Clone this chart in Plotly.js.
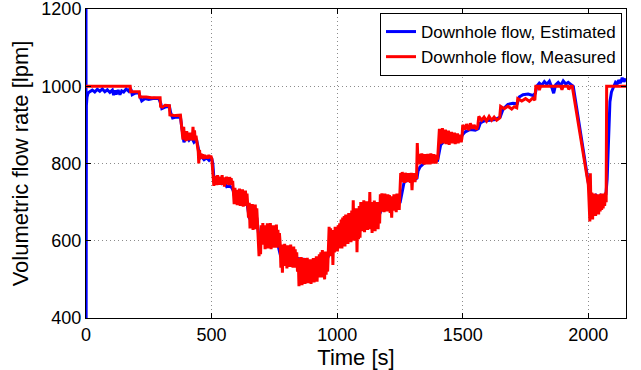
<!DOCTYPE html>
<html>
<head>
<meta charset="utf-8">
<script src="https://cdn.plot.ly/plotly-3.0.1.min.js"></script>
<style>html,body{margin:0;padding:0;background:#fff;}#chart{width:641px;height:370px;}</style>
</head>
<body>
<div id="chart"></div>
<script>
// Downhole flow, Measured (time [s], flow [lpm])
var tMeasured = [0,176,178,212,214,240,260,295,297,305,315,332,334,355,376,
380,383,386,389,392,395,398,401,404,407,410,413,416,420,423,426,429,432,435,438,441,444,447,449,452,455,458,461,465,469,473,477,481,485,489,493,497,501,504,506,509,512,515,518,521,524,527,530,533,536,539,542,545,548,551,554,557,560,563,566,569,572,575,578,581,584,
587,590,593,596,599,602,605,608,611,614,617,620,623,626,629,632,635,638,641,644,
647,650,653,656,659,662,665,668,671,674,677,680,683,686,689,692,695,698,701,
704,707,710,713,716,719,722,725,728,731,734,737,740,743,746,749,752,755,758,761,764,767,770,
773,776,779,782,785,788,791,794,797,800,803,806,809,812,815,818,821,824,827,830,833,836,839,
842,845,848,851,854,857,860,863,866,869,872,875,878,881,884,887,890,893,896,899,902,905,908,911,914,917,920,923,926,929,
932,935,938,941,944,947,950,953,956,959,962,965,968,971,
974,977,980,983,986,989,992,995,998,1001,1004,1007,1010,
1013,1016,1019,1022,1025,1028,1031,1034,1037,1040,1043,1046,1049,1052,1055,1058,1061,1064,1067,1070,1073,1076,1079,1082,1085,1088,1091,
1094,1097,1100,1103,1106,1109,1112,1115,1118,1121,1124,1127,1130,1133,1136,1139,1142,1145,1148,1151,1154,1157,1160,1163,1166,1169,
1172,1175,1178,1181,1184,1187,1190,1193,1196,1199,1202,1205,1208,1211,1214,1217,1220,1223,1226,1229,1232,1235,1238,1241,1244,1247,1250,
1253,1256,1259,1262,1265,1268,1271,1274,1277,1280,1283,1286,1289,1292,1295,1298,1301,1304,1307,1310,1313,1316,
1319,1322,1325,1328,1331,1334,1337,1340,1343,1346,1349,1352,1355,1358,1361,1364,1367,1370,1373,1376,1379,1382,1385,1388,1391,1394,1397,1400,
1404,1407,1410,1413,1416,1419,1422,1425,1428,1431,1434,1437,1440,1443,1446,1449,1452,1455,1458,1461,1464,1467,1470,1473,1476,1479,1482,1485,1488,1491,1494,1497,
1500,1510,1515,1525,1530,1540,1545,1555,1560,
1564,1575,1585,1595,1605,1615,1625,1635,1647,
1651,1665,1680,1695,1705,1715,
1719,1735,1750,1765,1778,1787,
1791,1800,1805,1810,1890,1895,1900,1918,1922,1930,1936,
2000,2003,2006,2008,2011,2014,2017,2020,2023,2026,2029,2032,2035,2038,2041,2044,2047,2050,2053,2056,2059,2062,2065,2068,2071,2073,2150];
var vMeasured = [1000,1000,986,986,972,972,970,970,948,946,951,950,926,924,925,
905,878,862,895,866,880,858,884,862,875,860,880,864,872,860,895,862,886,860,872,858,850,830,800,835,812,826,814,824,812,822,814,820,813,822,815,820,812,790,760,742,768,746,764,744,770,748,762,745,766,747,770,745,760,740,764,746,766,748,760,744,765,748,762,745,755,
720,695,737,700,732,692,728,698,735,690,725,700,733,688,726,697,730,690,722,700,
660,698,632,690,640,695,628,688,636,694,630,684,640,600,560,620,565,640,590,
646,590,640,578,636,584,645,580,632,590,646,578,636,586,640,582,630,588,642,582,628,595,620,
594,530,590,517,585,540,592,535,580,528,588,540,582,532,590,538,576,530,585,542,578,530,570,
520,556,482,550,495,558,485,545,498,555,488,548,500,556,490,545,495,552,488,540,498,555,492,548,500,560,494,552,505,565,
510,570,505,576,515,565,500,572,512,568,520,600,636,560,
632,575,628,537,615,570,636,578,630,572,640,580,645,
585,655,580,660,590,664,585,668,595,660,592,672,598,668,596,678,600,705,600,676,605,684,570,680,604,690,608,
700,625,695,630,705,622,698,635,702,628,692,640,726,630,700,620,695,638,704,625,698,640,700,630,690,645,
720,675,723,680,718,674,722,682,716,676,720,685,718,672,715,660,712,678,720,682,716,674,722,685,718,680,740,
775,752,778,755,772,750,776,758,770,752,775,756,772,750,776,731,770,754,775,752,774,760,
853,800,825,798,822,800,826,802,820,797,824,803,818,798,825,805,820,798,826,804,818,800,824,806,820,800,822,810,
870,890,850,885,855,892,852,880,858,888,850,878,860,885,848,876,858,882,852,875,858,880,850,872,856,878,852,870,860,875,855,868,
900,888,902,886,904,890,900,888,898,
922,912,920,910,922,912,920,912,918,
948,942,948,941,947,944,
968,962,968,961,969,964,
1000,1000,990,1000,1000,991,1000,1000,992,1000,1000,
745,700,650,775,662,725,655,715,668,722,664,712,672,720,668,715,676,722,680,716,684,722,690,725,700,1000,1000];

// Downhole flow, Estimated (time [s], flow [lpm])
var tEstimated = [0,0.5,1.5,4,8,15,25,35,45,55,65,75,85,95,105,110,115,120,128,135,142,150,160,170,176,180,184,195,210,216,222,235,250,270,290,298,302,315,332,337,345,360,376,380,385,390,400,410,420,430,440,447,452,460,470,480,490,500,505,510,520,530,540,550,560,570,580,586,595,605,615,625,640,650,660,670,680,690,700,710,720,730,740,750,760,775,790,800,815,830,840,850,860,870,880,890,900,915,930,950,965,975,990,1010,1030,1050,1070,1090,1110,1130,1150,1171,1180,1200,1220,1240,1251,1258,1266,1280,1300,1318,1322,1330,1345,1360,1380,1400,1405,1412,1430,1450,1470,1490,1500,1510,1530,1550,1562,1570,1585,1610,1630,1649,1660,1680,1700,1717,1725,1740,1760,1780,1789,1795,1805,1815,1825,1835,1845,1855,1862,1870,1880,1890,1900,1910,1920,1930,1940,2004,2010,2020,2030,2040,2050,2060,2070,2075,2080,2086,2092,2100,2108,2115,2120,2128,2135,2142,2150];
var vEstimated = [1210,395,950,972,982,986,990,985,992,987,993,986,991,984,990,977,989,979,990,978,988,985,993,987,995,990,978,982,984,972,962,968,966,969,968,955,942,946,948,932,918,920,920,900,870,855,870,860,868,855,862,840,812,818,810,815,808,815,800,755,750,755,748,752,740,742,738,730,705,712,700,708,700,660,662,655,660,600,610,612,605,610,600,604,600,560,556,552,555,550,545,556,520,555,515,525,520,525,530,538,560,600,605,612,625,632,640,650,662,665,668,672,690,695,690,698,700,726,750,758,755,762,780,791,800,806,805,808,830,848,860,862,860,864,875,882,888,886,890,905,910,912,914,920,940,953,956,955,972,978,980,976,982,1000,1008,1003,1012,1005,1013,996,982,1004,1010,1002,1014,1006,1010,1005,1000,735,716,712,718,710,718,714,720,760,880,960,985,1000,1010,1005,1016,1008,1022,1012,1020];

var xTicks = [0, 500, 1000, 1500, 2000];
var yTicks = [400, 600, 800, 1000, 1200];

var font = 'Liberation Sans, Arial, Helvetica, sans-serif';

var traces = [
  {x: tEstimated, y: vEstimated, type: 'scatter', mode: 'lines', name: 'Downhole flow, Estimated',
   line: {color: '#0000ff', width: 3}},
  {x: tMeasured, y: vMeasured, type: 'scatter', mode: 'lines', name: 'Downhole flow, Measured',
   line: {color: '#ff0000', width: 3}}
];

var axisCommon = {
  showline: true, linecolor: '#000', linewidth: 1, mirror: 'ticks',
  ticks: 'inside', ticklen: 5, tickcolor: '#000', tickwidth: 1,
  showgrid: true, gridcolor: '#8c8c8c', griddash: '1px,3px', gridwidth: 1,
  zeroline: false, ticklabeloverflow: 'allow',
  tickfont: {family: font, size: 18, color: '#000'}
};

var layout = {
  width: 641, height: 370,
  margin: {l: 86, r: 15, t: 9, b: 52},
  paper_bgcolor: '#fff', plot_bgcolor: '#fff',
  showlegend: true,
  legend: {x: 0.9926, y: 0.987, xanchor: 'right', yanchor: 'top',
           bgcolor: '#fff', bordercolor: '#000', borderwidth: 1,
           font: {family: font, size: 17, color: '#000'}, tracegroupgap: 0},
  xaxis: Object.assign({}, axisCommon, {
    range: [0, 2150], tickmode: 'array', tickvals: xTicks, ticktext: xTicks.map(String),
    title: {text: 'Time [s]', font: {family: font, size: 22, color: '#000'}, standoff: 2}
  }),
  yaxis: Object.assign({}, axisCommon, {
    range: [400, 1200], tickmode: 'array', tickvals: yTicks, ticktext: yTicks.map(String),
    title: {text: 'Volumetric flow rate [lpm]', font: {family: font, size: 22, color: '#000'}, standoff: 6}
  })
};

Plotly.newPlot('chart', traces, layout, {displayModeBar: false, staticPlot: true});
</script>
</body>
</html>
